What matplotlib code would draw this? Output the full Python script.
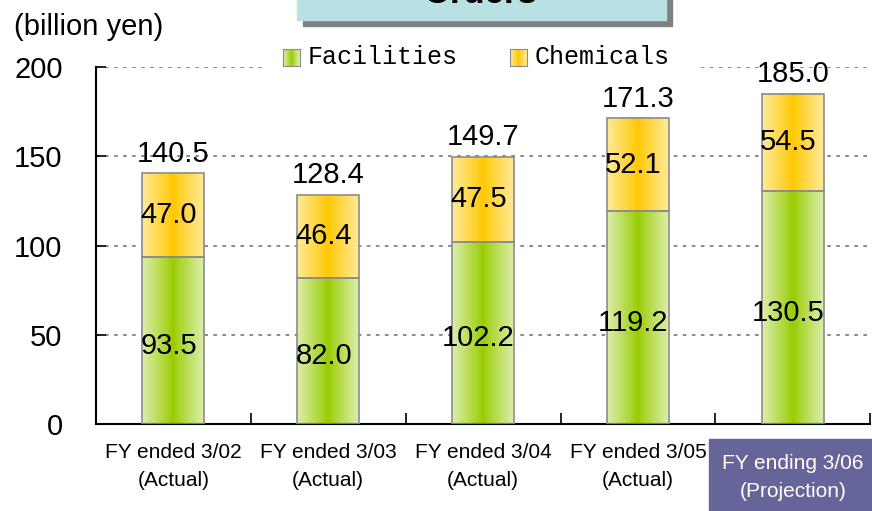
import numpy as np
import matplotlib
matplotlib.use("Agg")
import matplotlib.pyplot as plt
from matplotlib.patches import Rectangle
from matplotlib.colors import to_rgb

plt.rcParams['font.family'] = ['Liberation Sans', 'DejaVu Sans']

# data
categories = ["FY ended 3/02\n(Actual)", "FY ended 3/03\n(Actual)", "FY ended 3/04\n(Actual)",
              "FY ended 3/05\n(Actual)", "FY ending 3/06\n(Projection)"]
facilities = [93.5, 82.0, 102.2, 119.2, 130.5]
chemicals = [47.0, 46.4, 47.5, 52.1, 54.5]
totals = [140.5, 128.4, 149.7, 171.3, 185.0]
series_names = ["Facilities", "Chemicals"]

GREEN = ("#99cc00", "#dcedab")
ORANGE = ("#ffc800", "#ffe997")
W = 0.4


def gradient(c_mid, c_edge, n=64):
    t = np.abs(np.linspace(-1, 1, n)) ** 0.9
    a, b = np.array(to_rgb(c_mid)), np.array(to_rgb(c_edge))
    return (a[None, :] * (1 - t[:, None]) + b[None, :] * t[:, None])[None, :, :]


def grad_bar(ax, x, y0, h, cols):
    ax.imshow(gradient(*cols), extent=(x - W/2, x + W/2, y0, y0 + h), aspect="auto",
              interpolation="bilinear", zorder=2)
    ax.add_patch(Rectangle((x - W/2, y0), W, h, fill=False, ec="#8c8c8c", lw=1.2, zorder=3))


fig = plt.figure(figsize=(8.72, 5.11), dpi=100)
# projection label background (behind the axes)
fig.patches.append(Rectangle((709/872, 0), 1 - 709/872, 1 - 439/511, transform=fig.transFigure,
                             color="#65659a", zorder=-1))
ax = fig.add_axes([0.110, 0.170, 0.888, 0.699])
ax.patch.set_alpha(0)

x = np.arange(len(categories))
for i in x:
    grad_bar(ax, i, 0, facilities[i], GREEN)
    grad_bar(ax, i, facilities[i], chemicals[i], ORANGE)
    ax.text(i - 0.03, facilities[i] / 2 - 3, f"{facilities[i]:.1f}", ha="center", va="center",
            fontsize=21, zorder=5)
    ax.text(i - 0.03, facilities[i] + chemicals[i] / 2, f"{chemicals[i]:.1f}", ha="center",
            va="center", fontsize=21, zorder=5)
    ax.text(i, totals[i] + 3, f"{totals[i]:.1f}", ha="center", va="bottom", fontsize=21, zorder=5)

ax.set_xlim(-0.5, len(categories) - 0.5)
ax.set_ylim(0, 200)
ax.set_yticks([0, 50, 100, 150, 200])
ax.set_xticks(np.arange(len(categories) + 1) - 0.5)
ax.set_xticklabels([])
ax.tick_params(axis="y", direction="in", length=7, width=1.2, pad=24, labelsize=21)
ax.tick_params(axis="x", direction="in", length=8, width=1.2)
ax.yaxis.grid(True, color="#808080", linestyle=(0, (2, 3)), lw=1.3)
ax.set_axisbelow(True)
for s in ("top", "right"):
    ax.spines[s].set_visible(False)
for s in ("left", "bottom"):
    ax.spines[s].set_linewidth(1.5)

for i, lab in enumerate(categories):
    last = i == len(categories) - 1
    ax.text(i, -0.085 if last else -0.052, lab, transform=ax.get_xaxis_transform(),
            ha="center", va="top", fontsize=15, linespacing=1.6,
            color="white" if last else "black")

# y unit
fig.text(14/872, 1 - 35/511, "(billion yen)", fontsize=21, va="baseline")

# title box (cropped at top)
fig.patches.append(Rectangle((303/872, 1 - 26/511), 369/872, 26/511, transform=fig.transFigure,
                             color="#808080", zorder=1))
fig.patches.append(Rectangle((297/872, 1 - 20/511), 369/872, 21/511, transform=fig.transFigure,
                             color="#b9e0e3", zorder=1))
fig.text(481/872, 1 - 3/511, "Orders", fontsize=25, fontweight="bold", ha="center",
         va="baseline", zorder=2)

# legend
fig.patches.append(Rectangle((262/872, 1 - 78/511), 434/872, 38/511, transform=fig.transFigure,
                             color="white", zorder=1))
for xm, name, cols in [(283, series_names[0], GREEN), (510, series_names[1], ORANGE)]:
    lax = fig.add_axes([xm/872, 1 - 66/511, 17/872, 17/511], zorder=3)
    lax.imshow(gradient(*cols, n=16), aspect="auto", interpolation="bilinear")
    lax.set_xticks([]); lax.set_yticks([])
    for sp in lax.spines.values():
        sp.set_color("#8c8c8c")
    fig.text((xm + 25)/872, 1 - 57/511, name, family="Liberation Mono", fontsize=18,
             va="center", zorder=3)

fig.savefig("out.png", dpi=100)
